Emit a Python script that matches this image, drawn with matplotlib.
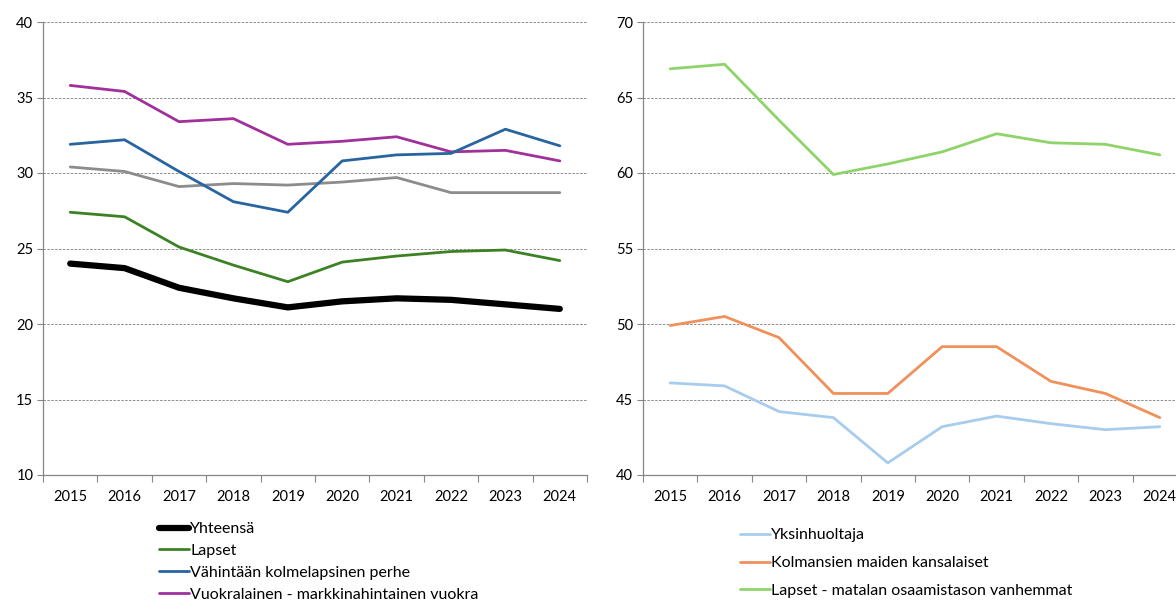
import matplotlib
matplotlib.use("Agg")
import matplotlib.pyplot as plt
import numpy as np

plt.rcParams['font.family'] = ['Lato', 'DejaVu Sans']

years = ["2015", "2016", "2017", "2018", "2019", "2020", "2021", "2022", "2023", "2024"]

# Left panel
yhteensa = [24.0, 23.7, 22.4, 21.7, 21.1, 21.5, 21.7, 21.6, 21.3, 21.0]
lapset = [27.4, 27.1, 25.1, 23.9, 22.8, 24.1, 24.5, 24.8, 24.9, 24.2]
kolmelapsinen = [31.9, 32.2, 30.1, 28.1, 27.4, 30.8, 31.2, 31.3, 32.9, 31.8]
vuokralainen = [35.8, 35.4, 33.4, 33.6, 31.9, 32.1, 32.4, 31.4, 31.5, 30.8]
harmaa = [30.4, 30.1, 29.1, 29.3, 29.2, 29.4, 29.7, 28.7, 28.7, 28.7]

# Right panel
yksinhuoltaja = [46.1, 45.9, 44.2, 43.8, 40.8, 43.2, 43.9, 43.4, 43.0, 43.2]
kolmansien = [49.9, 50.5, 49.1, 45.4, 45.4, 48.5, 48.5, 46.2, 45.4, 43.8]
matalan = [66.9, 67.2, 63.5, 59.9, 60.6, 61.4, 62.6, 62.0, 61.9, 61.2]

left_labels = ["Yhteensä", "Lapset", "Vähintään kolmelapsinen perhe",
               "Vuokralainen - markkinahintainen vuokra"]
right_labels = ["Yksinhuoltaja", "Kolmansien maiden kansalaiset",
                "Lapset - matalan osaamistason vanhemmat"]

W, H = 1176, 601
fig = plt.figure(figsize=(W / 100, H / 100), dpi=100)

axL = fig.add_axes([43 / W, 1 - 475 / H, 544 / W, 453 / H])
axR = fig.add_axes([643 / W, 1 - 475 / H, 544 / W, 453 / H])

x = np.arange(len(years))
AX_COL = "#868686"
GRID_COL = "#8c8c8c"
TICK_FS = 10.5
LEG_FS = 11.5


def style(ax, ylim):
    ax.set_xlim(-0.5, len(years) - 0.5)
    ax.set_ylim(*ylim)
    ax.set_yticks(np.arange(ylim[0], ylim[1] + 1, 5))
    ax.set_xticks(x)
    ax.set_xticklabels(years)
    ax.set_xticks(np.arange(-0.5, len(years), 1.0), minor=True)
    ax.tick_params(axis='x', which='major', length=0, pad=11, labelsize=TICK_FS, colors='black')
    ax.tick_params(axis='x', which='minor', length=5, width=0.8, color=AX_COL, direction='out')
    ax.tick_params(axis='y', length=4, width=0.8, color=AX_COL, labelsize=TICK_FS, pad=3)
    for s in ('top', 'right'):
        ax.spines[s].set_visible(False)
    for s in ('left', 'bottom'):
        ax.spines[s].set_color(AX_COL)
        ax.spines[s].set_linewidth(0.9)
    ax.yaxis.grid(True, color=GRID_COL, linestyle=(0, (2.5, 1.5)), linewidth=0.7)
    ax.set_axisbelow(True)


style(axL, (10, 40))
style(axR, (40, 70))

lw = 2.0
axL.plot(x, harmaa, color="#8c8c8c", lw=lw, solid_capstyle='round')
axL.plot(x, vuokralainen, color="#a0309a", lw=lw, label=left_labels[3], solid_capstyle='round')
axL.plot(x, kolmelapsinen, color="#2864a0", lw=lw, label=left_labels[2], solid_capstyle='round')
axL.plot(x, lapset, color="#3c8224", lw=lw, label=left_labels[1], solid_capstyle='round')
axL.plot(x, yhteensa, color="black", lw=4.5, label=left_labels[0], solid_capstyle='round')

axR.plot(x, yksinhuoltaja, color="#a8cced", lw=lw, label=right_labels[0], solid_capstyle='round')
axR.plot(x, kolmansien, color="#f0905a", lw=lw, label=right_labels[1], solid_capstyle='round')
axR.plot(x, matalan, color="#8ed46a", lw=lw, label=right_labels[2], solid_capstyle='round')

hL, lL = axL.get_legend_handles_labels()
order = [left_labels.index(l) for l in lL]
pairs = sorted(zip(order, hL, lL))
fig.legend([p[1] for p in pairs], [p[2] for p in pairs],
           loc='upper left', bbox_to_anchor=(159 / W, 1 - 522 / H),
           frameon=False, fontsize=LEG_FS, handlelength=1.9, handletextpad=0.05,
           labelspacing=0.48, borderpad=0, borderaxespad=0)

fig.legend(*axR.get_legend_handles_labels(),
           loc='upper left', bbox_to_anchor=(740 / W, 1 - 528 / H),
           frameon=False, fontsize=LEG_FS, handlelength=1.9, handletextpad=0.05,
           labelspacing=0.86, borderpad=0, borderaxespad=0)

fig.savefig("out.png", dpi=100)
